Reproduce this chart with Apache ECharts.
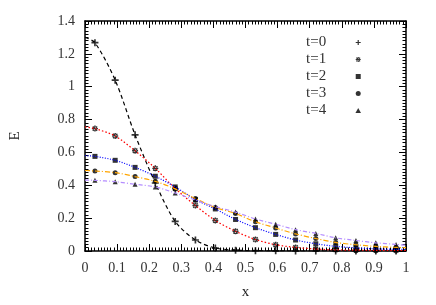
<!DOCTYPE html>
<html><head><meta charset="utf-8">
<script src="https://cdn.jsdelivr.net/npm/echarts@6/dist/echarts.min.js"></script>
<style>html,body{margin:0;padding:0;background:#fff}#c{width:436px;height:305px}</style>
</head><body><div id="c"></div>
<script>
// sample positions (x) of the markers
const xPoints = [0.031,0.094,0.156,0.219,0.281,0.344,0.406,0.469,0.531,0.594,0.656,0.719,0.781,0.844,0.906,0.969];
// E values per time step
const t0 = [1.268,1.04,0.707,0.414,0.18,0.067,0.018,0.005,0.002,0.001,0,0,0,0,0,0];
const t1 = [0.745,0.70,0.61,0.503,0.38,0.277,0.186,0.12,0.07,0.038,0.022,0.012,0.007,0.005,0.004,0.003];
const t2 = [0.576,0.552,0.509,0.455,0.39,0.313,0.256,0.192,0.142,0.101,0.067,0.044,0.028,0.019,0.013,0.01];
const t3 = [0.487,0.477,0.453,0.424,0.378,0.319,0.265,0.228,0.178,0.14,0.104,0.076,0.052,0.038,0.028,0.022];
const t4 = [0.43,0.422,0.406,0.39,0.353,0.31,0.27,0.237,0.195,0.163,0.13,0.107,0.08,0.064,0.05,0.04];
// curve values at the domain ends (x=0 and x=1)
const curveStart = [1.30,0.755,0.58,0.49,0.432];
const curveEnd = [0.0,0.003,0.009,0.02,0.035];
const names = ['t=0','t=1','t=2','t=3','t=4'];
const allData = [t0,t1,t2,t3,t4];

const SYM = {
  plus: 'path://M0.38,0H0.62V0.38H1V0.62H0.62V1H0.38V0.62H0V0.38H0.38Z',
  star: 'path://M0.38,0H0.62V0.38H1V0.62H0.62V1H0.38V0.62H0V0.38H0.38Z M0.05,0.22L0.22,0.05L0.95,0.78L0.78,0.95Z M0.95,0.22L0.78,0.05L0.05,0.78L0.22,0.95Z',
  square: 'path://M0,0H1V1H0Z',
  circle: 'path://M1,0.5A0.5,0.5,0,1,1,0,0.5A0.5,0.5,0,1,1,1,0.5Z',
  tri: 'path://M0.5,0L1,0.9H0Z'
};
const symbols = [SYM.plus, SYM.star, SYM.square, SYM.circle, SYM.tri];
const symSizes = [7,6,5,5,5];
const lineColors = ['#000000','#ff0000','#0000ff','#ffa500','#b48cff'];
const lineDash = [[4,3],[1.5,2],[1,1.5],[5,2,1,2],[4,2,1,2]];

const series = [];
for (let i = 0; i < 5; i++) {
  const pts = xPoints.map((x,j)=>[x, allData[i][j]]);
  series.push({
    name: names[i] + ' curve', type: 'line', smooth: 0.3,
    data: [[0, curveStart[i]]].concat(pts, [[1, curveEnd[i]]]),
    showSymbol: false, symbol: 'none', z: 3, silent: true,
    lineStyle: {color: lineColors[i], width: 1.2, type: lineDash[i]}
  });
  series.push({
    name: names[i], type: 'scatter', data: pts, symbol: symbols[i], symbolSize: symSizes[i],
    itemStyle: {color: '#000'}, z: 2
  });
}

const serif = 'Liberation Serif';
const axisCommon = {
  min: 0, axisLine: {show: true, onZero: false, lineStyle: {color: '#000', width: 1.5}},
  axisTick: {show: true, inside: true, length: 7, lineStyle: {color: '#000', width: 1}},
  minorTick: {show: true, splitNumber: 10, length: 3.5, lineStyle: {color: '#000', width: 1}},
  splitLine: {show: false}
};
const chart = echarts.init(document.getElementById('c'), null, {renderer: 'canvas'});
chart.setOption({
  animation: false,
  backgroundColor: '#fff',
  grid: {left: 81, right: 30, top: 21, bottom: 54, containLabel: false},
  xAxis: [
    Object.assign({type: 'value', max: 1, interval: 0.1, position: 'bottom',
      name: 'x', nameLocation: 'middle', nameGap: 34,
      nameTextStyle: {fontFamily: serif, fontSize: 15, color: '#222'},
      axisLabel: {fontFamily: serif, fontSize: 14, color: '#333', margin: 10}}, axisCommon),
    Object.assign({type: 'value', max: 1, interval: 0.1, position: 'top', axisLabel: {show: false}}, axisCommon)
  ],
  yAxis: [
    Object.assign({type: 'value', max: 1.4, interval: 0.2, position: 'left',
      name: 'E', nameLocation: 'middle', nameGap: 62,
      nameTextStyle: {fontFamily: serif, fontSize: 15, color: '#222'},
      axisLabel: {fontFamily: serif, fontSize: 14, color: '#333', margin: 10}}, axisCommon),
    Object.assign({type: 'value', max: 1.4, interval: 0.2, position: 'right', axisLabel: {show: false}}, axisCommon)
  ],
  legend: {
    data: names, orient: 'vertical', align: 'right', right: 75, top: 35, padding: 0,
    itemWidth: 54, itemHeight: 5, itemGap: 2, symbolKeepAspect: true,
    textStyle: {fontFamily: serif, fontSize: 15, color: '#333', lineHeight: 14.3}
  },
  series: series
});
</script></body></html>
